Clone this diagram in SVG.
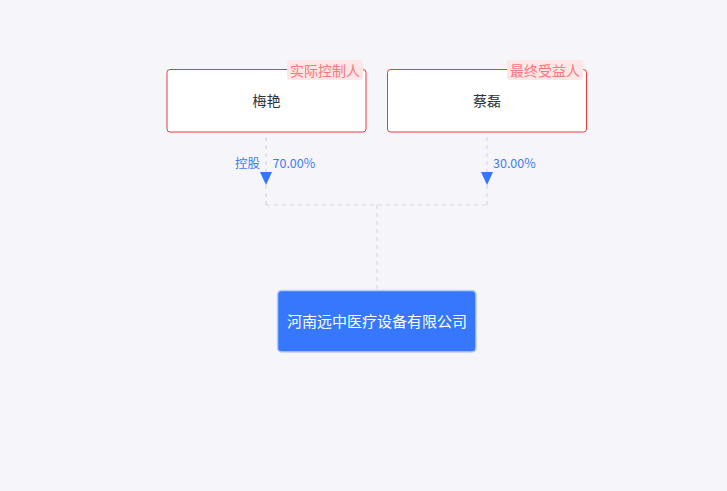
<svg xmlns="http://www.w3.org/2000/svg" width="727" height="491" viewBox="0 0 727 491">
<style>
text{font-family:"Noto Sans CJK SC","Noto Sans",sans-serif}
.p{fill:#fff;stroke:#f0393e;stroke-width:1}
.pn{font-size:14px;fill:#333;text-anchor:middle}
.tagbg{fill:#fde6e7}
.tag{font-size:14px;fill:#f7787c;text-anchor:middle}
.ln{stroke:#d6d8df;stroke-width:1.2;stroke-dasharray:4 4;fill:none}
.lbl{font-size:12.5px;fill:#3e7bf5}
.arr{fill:#3377ff}
</style>
<rect width="727" height="491" fill="#f6f6fa"/>
<g id="connectors">
<path class="ln" d="M266 137V205M487 137V205M266 205H487M377 205V290"/>
<polygon class="arr" points="260,172 272,172 266,185"/>
<polygon class="arr" points="481,172 493,172 487,185"/>
<text class="lbl" x="235" y="168">控股</text>
<text class="lbl" x="272.5" y="168">70.00%</text>
<text class="lbl" x="493" y="168">30.00%</text>
</g>
<g id="node-meiyan">
<rect class="p" x="167" y="69.5" width="199" height="62.5" rx="3"/>
<text class="pn" x="266.5" y="106">梅艳</text>
<rect class="tagbg" x="287" y="60" width="76" height="20" rx="3"/>
<text class="tag" x="325" y="76">实际控制人</text>
</g>
<g id="node-cailei">
<rect class="p" x="387.5" y="69.5" width="199" height="62.5" rx="3"/>
<text class="pn" x="487" y="106">蔡磊</text>
<rect class="tagbg" x="507" y="60" width="76" height="20" rx="3"/>
<text class="tag" x="545" y="76">最终受益人</text>
</g>
<g id="node-company">
<rect x="277.5" y="290.5" width="198.5" height="61.5" rx="4" fill="#3677fd" stroke="#b9cdf7" stroke-width="1.5"/>
<text x="377" y="327" font-size="15" fill="#fff" text-anchor="middle">河南远中医疗设备有限公司</text>
</g>
</svg>
